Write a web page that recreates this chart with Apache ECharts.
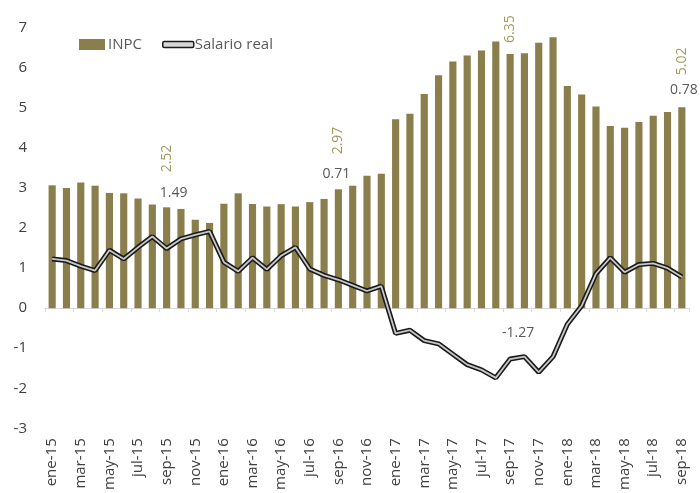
<!DOCTYPE html>
<html>
<head>
<meta charset="utf-8">
<script src="https://cdn.jsdelivr.net/npm/echarts@6/dist/echarts.min.js"></script>
<style>
  html, body { margin: 0; padding: 0; background: #fff; }
  #chart { width: 700px; height: 493px; }
</style>
</head>
<body>
<div id="chart"></div>
<script>
const categories = [
  "ene-15", "feb-15", "mar-15", "abr-15", "may-15", "jun-15", "jul-15", "ago-15", "sep-15", "oct-15", "nov-15", "dic-15",
  "ene-16", "feb-16", "mar-16", "abr-16", "may-16", "jun-16", "jul-16", "ago-16", "sep-16", "oct-16", "nov-16", "dic-16",
  "ene-17", "feb-17", "mar-17", "abr-17", "may-17", "jun-17", "jul-17", "ago-17", "sep-17", "oct-17", "nov-17", "dic-17",
  "ene-18", "feb-18", "mar-18", "abr-18", "may-18", "jun-18", "jul-18", "ago-18", "sep-18"
];
const inpc = [
  3.07, 3.00, 3.14, 3.06, 2.88, 2.87, 2.74, 2.59, 2.52, 2.48, 2.21, 2.13,
  2.61, 2.87, 2.60, 2.54, 2.60, 2.54, 2.65, 2.73, 2.97, 3.06, 3.31, 3.36,
  4.72, 4.86, 5.35, 5.82, 6.16, 6.31, 6.44, 6.66, 6.35, 6.37, 6.63, 6.77,
  5.55, 5.34, 5.04, 4.55, 4.51, 4.65, 4.81, 4.90, 5.02
];
const salario = [
  1.23, 1.19, 1.05, 0.94, 1.45, 1.23, 1.52, 1.79, 1.49, 1.73, 1.83, 1.92,
  1.15, 0.92, 1.26, 0.97, 1.31, 1.52, 0.98, 0.82, 0.71, 0.57, 0.43, 0.55,
  -0.63, -0.55, -0.81, -0.89, -1.15, -1.41, -1.54, -1.74, -1.27, -1.21, -1.60, -1.21,
  -0.40, 0.06, 0.86, 1.26, 0.90, 1.09, 1.12, 1.00, 0.78
];
// months that carry a value label (sep of each year)
const labelled = [8, 20, 32, 44];

// hand placement of the labels, as in the original
const barLabelGap = { 8: 35, 20: 35, 32: 11, 44: 32 };
const lineLabelOffset = { 8: [7, -48], 20: [-2, -99], 32: [8, -19], 44: [2, -180] };

const FONT = "'Open Sans', 'Noto Sans', sans-serif";
const OLIVE = "#8a7f4c";

const chart = echarts.init(document.getElementById("chart"));

const barData = inpc.map((v, i) => {
  if (!labelled.includes(i)) return v;
  return {
    value: v,
    label: {
      show: true,
      position: "top",
      rotate: 90,
      align: "left",
      verticalAlign: "middle",
      distance: barLabelGap[i],
      color: "#a39a5c",
      fontSize: 14,
      fontFamily: FONT,
      formatter: (p) => p.value.toFixed(2),
    },
  };
});

const lineData = salario.map((v, i) => {
  if (!labelled.includes(i)) return v;
  return {
    value: v,
    label: {
      show: true,
      position: "top",
      distance: 0,
      offset: lineLabelOffset[i],
      color: "#595959",
      fontSize: 14,
      fontFamily: FONT,
      formatter: (p) => p.value.toFixed(2),
    },
  };
});

chart.setOption({
  animation: false,
  grid: { left: 45, right: 11, top: 28, bottom: 59 },
  legend: [
    {
      data: ["INPC"],
      left: 79,
      top: 37,
      padding: 0,
      itemWidth: 26,
      itemHeight: 11,
      icon: "rect",
      textStyle: { color: "#595959", fontSize: 15, fontFamily: FONT, padding: [0, 0, 0, -2] },
    },
    {
      data: [{ name: "Salario real", icon: "roundRect" }],
      left: 162,
      top: 37,
      padding: 0,
      itemWidth: 31,
      itemHeight: 6,
      itemStyle: { color: "#d6d6d6", borderColor: "#1a1a1a", borderWidth: 1.5 },
      textStyle: { color: "#595959", fontSize: 15, fontFamily: FONT, padding: [0, 0, 0, -4] },
    },
  ],
  xAxis: [
    {
      type: "category",
      data: categories,
      position: "bottom",
      axisLine: { show: false, onZero: false },
      axisTick: { show: false },
      axisLabel: {
        interval: 1,
        rotate: 90,
        margin: 10,
        color: "#404040",
        fontSize: 15,
        fontFamily: FONT,
      },
    },
    {
      type: "category",
      data: categories,
      position: "top",
      axisLine: { show: true, onZero: true, lineStyle: { color: "#d9d9d9", width: 1 } },
      axisTick: { show: true, inside: true, interval: 1, length: 4, lineStyle: { color: "#d9d9d9" } },
      axisLabel: { show: false },
    },
  ],
  yAxis: {
    type: "value",
    min: -3,
    max: 7,
    interval: 1,
    axisLine: { show: false },
    axisTick: { show: false },
    splitLine: { show: false },
    axisLabel: { margin: 18, color: "#404040", fontSize: 15, fontFamily: FONT },
  },
  series: [
    {
      name: "INPC",
      type: "bar",
      barWidth: "50%",
      itemStyle: { color: OLIVE },
      data: barData,
    },
    {
      name: "Salario real",
      type: "line",
      symbol: "circle",
      symbolSize: 0.1,
      showSymbol: true,
      itemStyle: { color: "#1a1a1a" },
      lineStyle: { color: "#1a1a1a", width: 5 },
      z: 3,
      data: lineData,
    },
    {
      name: "salario-inner",
      type: "line",
      symbol: "none",
      lineStyle: { color: "#c8c8c8", width: 1.8 },
      z: 4,
      silent: true,
      data: salario,
    },
  ],
});
</script>
</body>
</html>
